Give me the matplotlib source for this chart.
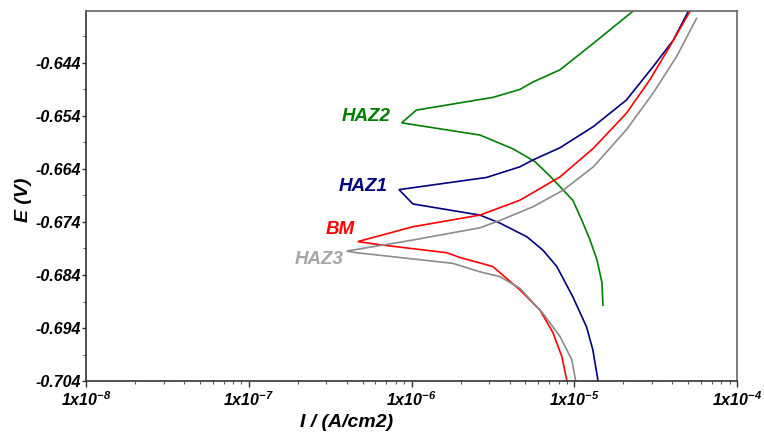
import numpy as np
import matplotlib
matplotlib.use("Agg")
import matplotlib.pyplot as plt
from matplotlib.ticker import FixedLocator, LogLocator, FuncFormatter, NullFormatter

plt.rcParams["font.family"] = ["Liberation Sans", "DejaVu Sans"]

# polarisation curves, traced from top end of anodic branch -> tip -> bottom of cathodic branch
# current density in A/cm2, potential in V
haz2_i = [2.28e-5, 1.31e-5, 8.17e-6, 5.57e-6, 4.63e-6, 3.16e-6, 1.07e-6, 8.69e-7,
          2.63e-6, 4.20e-6, 5.73e-6, 7.28e-6, 9.79e-6, 1.11e-5, 1.25e-5, 1.38e-5, 1.48e-5, 1.50e-5]
haz2_e = [-0.6343, -0.6403, -0.6453, -0.6476, -0.6490, -0.6505, -0.6529, -0.6553,
          -0.6576, -0.6602, -0.6626, -0.6657, -0.6699, -0.6736, -0.6774, -0.6812, -0.6855, -0.6897]

haz1_i = [5.01e-5, 4.06e-5, 3.05e-5, 2.09e-5, 1.31e-5, 8.17e-6, 5.57e-6, 4.63e-6, 2.89e-6, 1.98e-6, 8.37e-7,
          1.02e-6, 2.63e-6, 3.49e-6, 5.12e-6, 6.41e-6, 7.81e-6, 9.79e-6, 1.19e-5, 1.30e-5, 1.40e-5]
haz1_e = [-0.6343, -0.6397, -0.6447, -0.6510, -0.6560, -0.6600, -0.6623, -0.6636, -0.6656, -0.6663, -0.6679,
          -0.6706, -0.6727, -0.6742, -0.6768, -0.6793, -0.6824, -0.6881, -0.6938, -0.6981, -0.7040]

bm_i = [5.13e-5, 3.86e-5, 2.91e-5, 2.09e-5, 1.31e-5, 8.17e-6, 4.63e-6, 2.63e-6, 1.02e-6, 4.67e-7,
        6.40e-7, 1.65e-6, 1.98e-6, 3.16e-6, 4.63e-6, 6.15e-6, 7.40e-6, 8.39e-6, 9.02e-6]
bm_e = [-0.6343, -0.6409, -0.6472, -0.6535, -0.6601, -0.6655, -0.6699, -0.6727, -0.6749, -0.6777,
        -0.6783, -0.6798, -0.6807, -0.6824, -0.6868, -0.6906, -0.6949, -0.6994, -0.7040]

haz3_i = [5.64e-5, 4.25e-5, 3.05e-5, 2.09e-5, 1.31e-5, 8.55e-6, 5.60e-6, 3.57e-6, 2.63e-6, 1.02e-6, 3.99e-7,
          4.60e-7, 1.79e-6, 2.63e-6, 3.49e-6, 4.63e-6, 6.41e-6, 8.17e-6, 9.66e-6, 1.02e-5]
haz3_e = [-0.6356, -0.6428, -0.6497, -0.6566, -0.6636, -0.6680, -0.6711, -0.6736, -0.6751, -0.6774, -0.6795,
          -0.6798, -0.6818, -0.6834, -0.6843, -0.6865, -0.6912, -0.6956, -0.7000, -0.7040]

names = ["HAZ2", "HAZ1", "BM", "HAZ3"]
line_colors = ["#008000", "#000080", "#ff0000", "#8c8c8c"]
label_colors = ["#008000", "#000080", "#ff0000", "#a6a6a6"]
# label anchor (right edge, centre) next to each curve tip
label_i = [7.4e-7, 7.1e-7, 4.5e-7, 3.8e-7]
label_e = [-0.6541, -0.6673, -0.6755, -0.6810]

yticks = [-0.704, -0.694, -0.684, -0.674, -0.664, -0.654, -0.644]

fig = plt.figure(figsize=(7.64, 4.36), dpi=100)
ax = fig.add_axes([0.1126, 0.1261, 0.8521, 0.8487])

curves = [(haz2_i, haz2_e), (haz1_i, haz1_e), (bm_i, bm_e), (haz3_i, haz3_e)]
for (ci, ce), c in zip(curves, line_colors):
    ax.plot(ci, ce, color=c, lw=1.2, solid_joinstyle="miter")

for n, x, y, c in zip(names, label_i, label_e, label_colors):
    ax.text(x, y, n, color=c, fontsize=13.5, fontweight="bold", fontstyle="italic",
            ha="right", va="center")

ax.set_xscale("log")
ax.set_xlim(1e-8, 1e-4)
ax.set_ylim(-0.704, -0.6342)

ax.xaxis.set_major_locator(LogLocator(base=10, numticks=10))
ax.xaxis.set_minor_locator(LogLocator(base=10, subs=np.arange(2, 10), numticks=20))
ax.xaxis.set_major_formatter(FuncFormatter(lambda v, p: r"$\mathregular{1x10^{%d}}$" % round(np.log10(v))))
ax.xaxis.set_minor_formatter(NullFormatter())

ax.yaxis.set_major_locator(FixedLocator(yticks))
ax.yaxis.set_minor_locator(FixedLocator(np.arange(-0.699, -0.634, 0.01)))
ax.yaxis.set_major_formatter(FuncFormatter(lambda v, p: f"{v:.3f}"))

for lab in ax.get_xticklabels() + ax.get_yticklabels():
    lab.set_fontweight("bold")
    lab.set_fontstyle("italic")
    lab.set_fontsize(11.5)

ax.tick_params(axis="both", which="major", length=3, width=1, color="#333333")
ax.tick_params(axis="y", which="major", pad=0.5)
ax.tick_params(axis="x", which="major", length=4, pad=3)
ax.tick_params(axis="both", which="minor", length=2.5, width=0.8, color="#555555")

for s in ["left", "bottom"]:
    ax.spines[s].set_color("#333333")
    ax.spines[s].set_linewidth(1.2)
for s in ["top", "right"]:
    ax.spines[s].set_color("#666666")
    ax.spines[s].set_linewidth(1.2)

ax.set_xlabel("I / (A/cm2)", fontsize=14, fontweight="bold", fontstyle="italic")
ax.set_ylabel("E (V)", fontsize=14, fontweight="bold", fontstyle="italic")
ax.xaxis.set_label_coords(0.40, -0.09)
ax.yaxis.set_label_coords(-0.083, 0.49)

fig.savefig("out.png", dpi=100)
